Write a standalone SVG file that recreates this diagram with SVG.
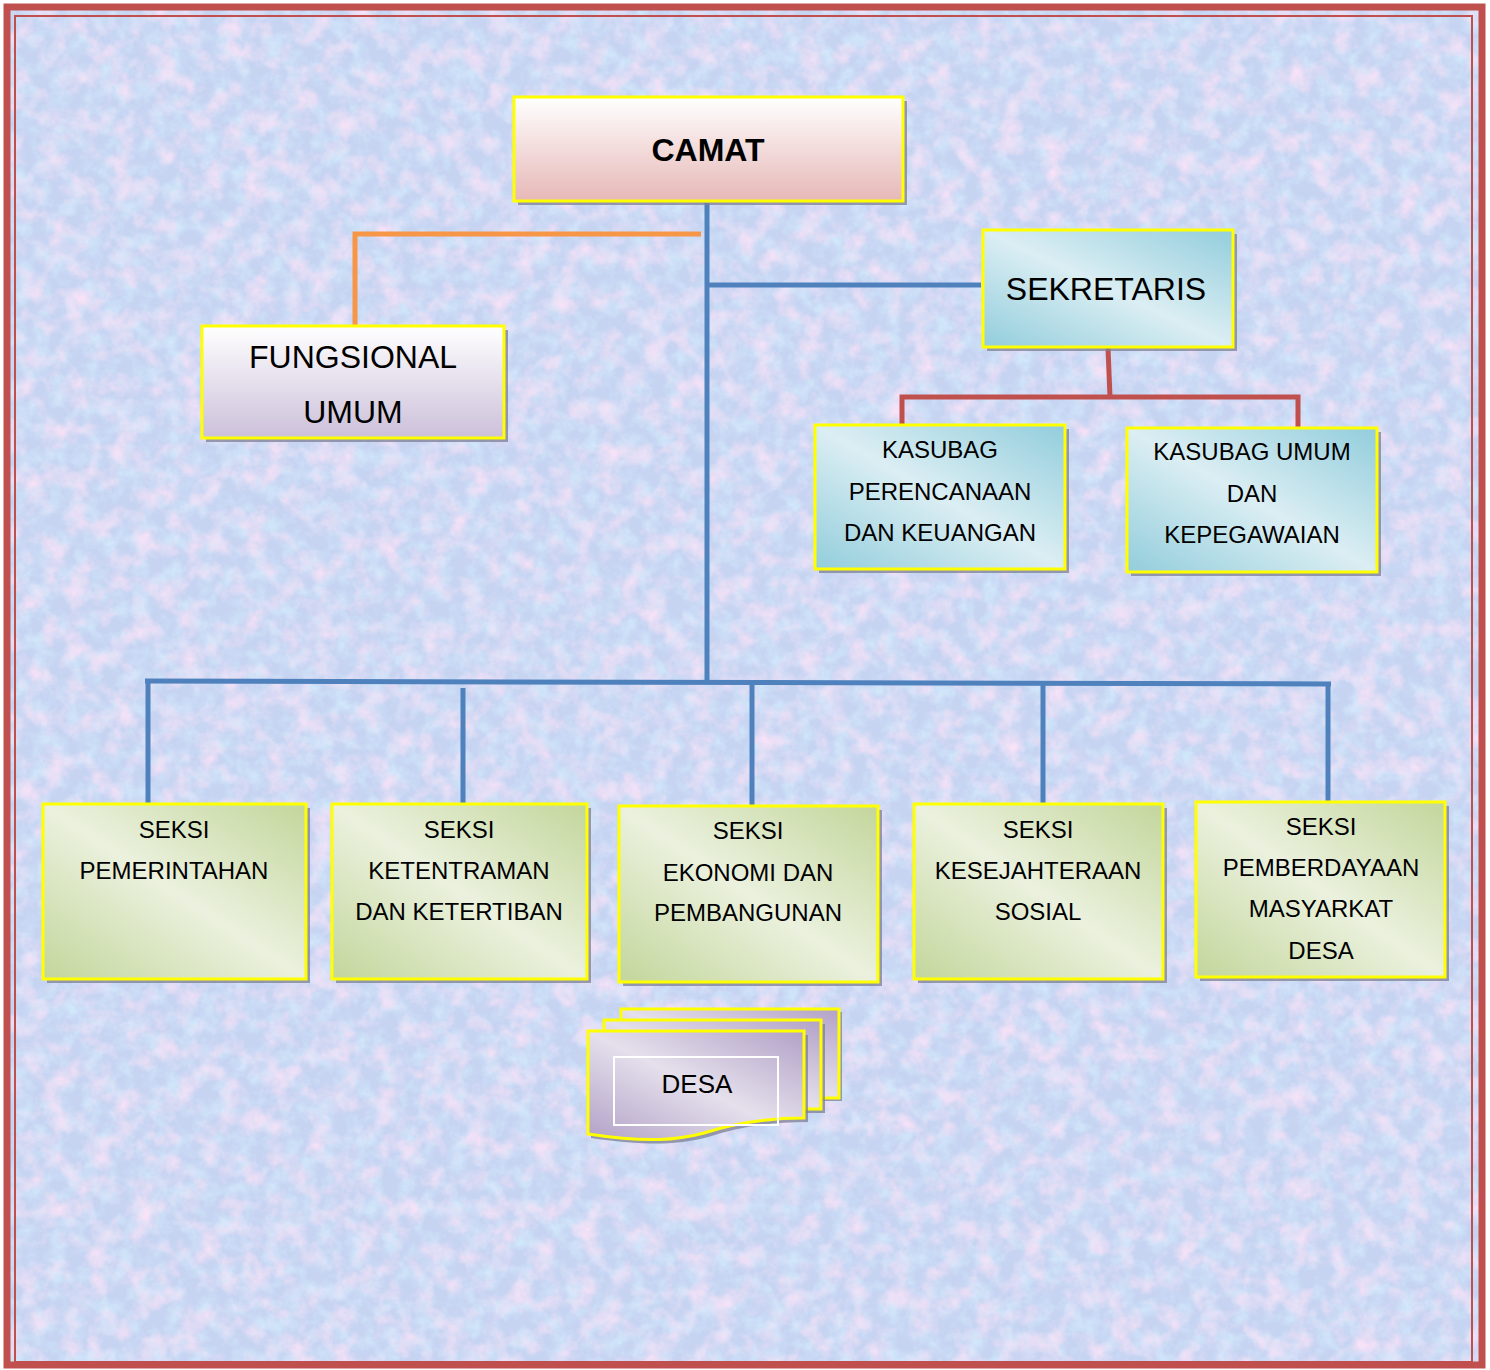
<svg xmlns="http://www.w3.org/2000/svg" width="1490" height="1370" viewBox="0 0 1490 1370">
<defs>
<style>
.box{stroke:#ffff00;stroke-width:3}
.sh{fill:#7d7f95;opacity:.75}
.t{font-family:"Liberation Sans",Arial,sans-serif;fill:#000;text-anchor:middle}
.big{font-size:32px}
.mid{font-size:24px}
.blue{stroke:#4f81bd;stroke-width:5;fill:none}
.org{stroke:#f79646;stroke-width:5;fill:none}
.red{stroke:#c0504d;stroke-width:5;fill:none}
</style>
<filter id="pink" x="0" y="0" width="100%" height="100%">
<feTurbulence type="fractalNoise" baseFrequency="0.045" numOctaves="4" seed="7"/>
<feColorMatrix type="matrix" values="0 0 0 0 0.93  0 0 0 0 0.76  0 0 0 0 0.93  2.2 0 0 0 -0.95"/>
</filter>
<filter id="blu" x="0" y="0" width="100%" height="100%">
<feTurbulence type="fractalNoise" baseFrequency="0.06" numOctaves="4" seed="21"/>
<feColorMatrix type="matrix" values="0 0 0 0 0.64  0 0 0 0 0.80  0 0 0 0 0.96  0 2.2 0 0 -0.9"/>
</filter>
<linearGradient id="gCamat" x1="0" y1="0" x2="0" y2="1">
<stop offset="0" stop-color="#ffffff"/><stop offset="1" stop-color="#e6b8b7"/>
</linearGradient>
<linearGradient id="gFung" x1="0" y1="0" x2="0" y2="1">
<stop offset="0" stop-color="#ffffff"/><stop offset="1" stop-color="#ccc0da"/>
</linearGradient>
<linearGradient id="gCyan" x1="1" y1="0" x2="0" y2="1">
<stop offset="0" stop-color="#92cddc"/><stop offset="0.5" stop-color="#dbeef3"/><stop offset="1" stop-color="#92cddc"/>
</linearGradient>
<linearGradient id="gGreen" x1="1" y1="0" x2="0" y2="1">
<stop offset="0" stop-color="#c3d69b"/><stop offset="0.5" stop-color="#ebf1de"/><stop offset="1" stop-color="#c3d69b"/>
</linearGradient>
<linearGradient id="gLav" x1="1" y1="0" x2="0" y2="1">
<stop offset="0" stop-color="#b2a1c7"/><stop offset="0.5" stop-color="#e5e0ec"/><stop offset="1" stop-color="#b2a1c7"/>
</linearGradient>
</defs>

<g id="background">
<rect x="0" y="0" width="1490" height="1370" fill="#ffffff"/>
<rect x="10" y="10" width="1470" height="1352" fill="#c6d4f2"/>
<rect x="10" y="10" width="1470" height="1352" filter="url(#blu)"/>
<rect x="10" y="10" width="1470" height="1352" filter="url(#pink)"/>
<rect x="7" y="7" width="1475" height="1358" fill="none" stroke="#c0504d" stroke-width="7"/>
<rect x="15" y="16" width="1457" height="1346" fill="none" stroke="#c0504d" stroke-width="2"/>
</g>

<g id="connectors">
<line class="blue" x1="707" y1="203" x2="707" y2="684"/>
<line class="blue" x1="707" y1="285" x2="981" y2="285"/>
<polyline class="org" points="701,234 355,234 355,327"/>
<polyline class="red" points="1108,348 1110,397"/>
<polyline class="red" points="902,426 902,397 1298,397 1298,429"/>
<line class="blue" x1="145" y1="681" x2="1331" y2="684"/>
<line class="blue" x1="148" y1="681" x2="148" y2="804"/>
<line class="blue" x1="463" y1="688" x2="463" y2="804"/>
<line class="blue" x1="752" y1="683" x2="752" y2="806"/>
<line class="blue" x1="1043" y1="684" x2="1043" y2="804"/>
<line class="blue" x1="1328" y1="684" x2="1328" y2="802"/>
</g>

<g id="camat">
<rect class="sh" x="518" y="101" width="389" height="104"/>
<rect class="box" x="514" y="97" width="389" height="104" fill="url(#gCamat)"/>
<text class="t big" x="708" y="161" font-weight="bold">CAMAT</text>
</g>

<g id="sekretaris">
<rect class="sh" x="987" y="234" width="250" height="117"/>
<rect class="box" x="983" y="230" width="250" height="117" fill="url(#gCyan)"/>
<text class="t big" x="1106" y="300">SEKRETARIS</text>
</g>

<g id="fungsional">
<rect class="sh" x="206" y="330" width="302" height="112"/>
<rect class="box" x="202" y="326" width="302" height="112" fill="url(#gFung)"/>
<text class="t big" x="353" y="368">FUNGSIONAL</text>
<text class="t big" x="353" y="423">UMUM</text>
</g>

<g id="kasubag-perencanaan">
<rect class="sh" x="819" y="429" width="250" height="144"/>
<rect class="box" x="815" y="425" width="250" height="144" fill="url(#gCyan)"/>
<text class="t mid" x="940" y="458">KASUBAG</text>
<text class="t mid" x="940" y="500">PERENCANAAN</text>
<text class="t mid" x="940" y="541">DAN KEUANGAN</text>
</g>

<g id="kasubag-umum">
<rect class="sh" x="1131" y="432" width="250" height="144"/>
<rect class="box" x="1127" y="428" width="250" height="144" fill="url(#gCyan)"/>
<text class="t mid" x="1252" y="460">KASUBAG UMUM</text>
<text class="t mid" x="1252" y="502">DAN</text>
<text class="t mid" x="1252" y="543">KEPEGAWAIAN</text>
</g>

<g id="seksi-pemerintahan">
<rect class="sh" x="47" y="808" width="263" height="175"/>
<rect class="box" x="43" y="804" width="263" height="175" fill="url(#gGreen)"/>
<text class="t mid" x="174" y="838">SEKSI</text>
<text class="t mid" x="174" y="879">PEMERINTAHAN</text>
</g>

<g id="seksi-ketentraman">
<rect class="sh" x="336" y="808" width="255" height="175"/>
<rect class="box" x="332" y="804" width="255" height="175" fill="url(#gGreen)"/>
<text class="t mid" x="459" y="838">SEKSI</text>
<text class="t mid" x="459" y="879">KETENTRAMAN</text>
<text class="t mid" x="459" y="920">DAN KETERTIBAN</text>
</g>

<g id="seksi-ekonomi">
<rect class="sh" x="623" y="810" width="259" height="176"/>
<rect class="box" x="619" y="806" width="259" height="176" fill="url(#gGreen)"/>
<text class="t mid" x="748" y="839">SEKSI</text>
<text class="t mid" x="748" y="881">EKONOMI DAN</text>
<text class="t mid" x="748" y="921">PEMBANGUNAN</text>
</g>

<g id="seksi-kesejahteraan">
<rect class="sh" x="918" y="808" width="249" height="175"/>
<rect class="box" x="914" y="804" width="249" height="175" fill="url(#gGreen)"/>
<text class="t mid" x="1038" y="838">SEKSI</text>
<text class="t mid" x="1038" y="879">KESEJAHTERAAN</text>
<text class="t mid" x="1038" y="920">SOSIAL</text>
</g>

<g id="seksi-pemberdayaan">
<rect class="sh" x="1200" y="806" width="249" height="175"/>
<rect class="box" x="1196" y="802" width="249" height="175" fill="url(#gGreen)"/>
<text class="t mid" x="1321" y="835">SEKSI</text>
<text class="t mid" x="1321" y="876">PEMBERDAYAAN</text>
<text class="t mid" x="1321" y="917">MASYARKAT</text>
<text class="t mid" x="1321" y="959">DESA</text>
</g>

<g id="desa">
<rect class="sh" x="624" y="1012" width="218" height="89"/>
<rect class="box" x="621" y="1009" width="218" height="89" fill="url(#gLav)"/>
<rect class="sh" x="607" y="1024" width="218" height="89"/>
<rect class="box" x="604" y="1020" width="217" height="89" fill="url(#gLav)"/>
<path class="sh" d="M591,1035 H808 V1122 C772,1122 742,1126 708,1137 C682,1144 652,1147 591,1138 Z"/>
<path class="box" d="M588,1031 H804 V1118 C768,1118 738,1122 704,1133 C678,1140 648,1143 588,1134 Z" fill="url(#gLav)"/>
<rect x="614" y="1057" width="164" height="68" fill="none" stroke="#ffffff" stroke-width="2"/>
<text class="t" x="697" y="1093" font-size="26px">DESA</text>
</g>
</svg>
